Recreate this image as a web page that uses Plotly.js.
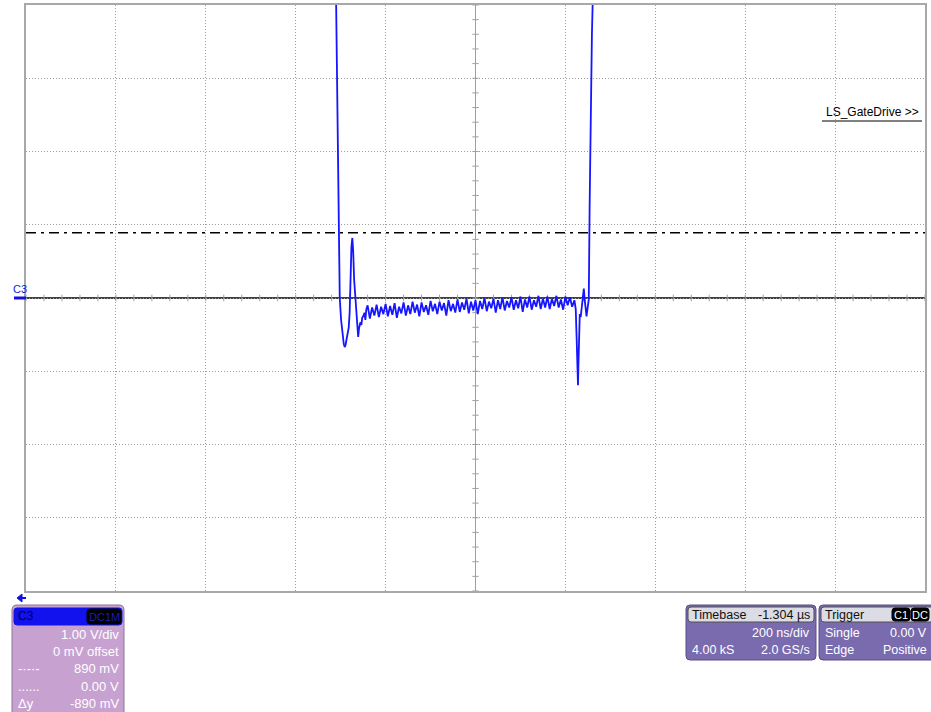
<!DOCTYPE html>
<html><head><meta charset="utf-8">
<script src="https://cdn.plot.ly/plotly-3.0.1.min.js"></script>
<style>html,body{margin:0;padding:0;background:#fff;}#chart{width:931px;height:712px;}</style>
</head><body><div id="chart"></div>
<script>
// ---- data (time in ns from left screen edge, 200 ns/div; volts at 1 V/div) ----
const edge1Time = [688,691,694,696,698,701,704,707,709,711,713,716,718,720,722,724,726,728,730,733,735,737,739,741,744,746,748,751,753,755,757];
const edge1Volt = [5.0,3.5,1.3,0.38,0.0,-0.30,-0.50,-0.63,-0.67,-0.64,-0.57,-0.47,-0.40,-0.20,0.35,0.70,0.82,0.62,0.25,-0.03,-0.30,-0.48,-0.53,-0.41,-0.33,-0.37,-0.27,-0.24,-0.20,-0.30,-0.16];
const flatTime = [760,765,770,775,780,785,790,795,800,805,810,815,820,825,830,835,840,845,850,855,860,865,870,875,880,885,890,895,900,905,910,915,920,925,930,935,940,945,950,955,960,965,970,975,980,985,990,995,1000,1005,1010,1015,1020,1025,1030,1035,1040,1045,1050,1055,1060,1065,1070,1075,1080,1085,1090,1095,1100,1105,1110,1115,1120,1125,1130,1135,1140,1145,1150,1155,1160,1165,1170,1175,1180,1185,1190,1195,1200,1205,1210,1215,1220];
const flatVolt = [-0.10,-0.28,-0.13,-0.24,-0.09,-0.26,-0.12,-0.22,-0.08,-0.25,
 -0.11,-0.23,-0.07,-0.27,-0.12,-0.21,-0.06,-0.24,-0.10,-0.22,
 -0.05,-0.20,-0.09,-0.25,-0.06,-0.19,-0.10,-0.23,-0.04,-0.18,
 -0.08,-0.22,-0.05,-0.17,-0.07,-0.24,-0.03,-0.18,-0.08,-0.20,
 -0.02,-0.19,-0.06,-0.16,-0.01,-0.21,-0.05,-0.17,-0.03,-0.22,
 -0.04,-0.15,0.00,-0.18,-0.05,-0.14,-0.01,-0.20,-0.03,-0.15,
 0.01,-0.17,-0.04,-0.13,0.01,-0.16,-0.03,-0.14,0.02,-0.19,
 -0.02,-0.13,0.02,-0.16,-0.03,-0.12,0.03,-0.15,-0.01,-0.13,
 0.02,-0.15,-0.01,-0.11,0.03,-0.13,-0.02,-0.16,0.02,-0.10,
 0.01,-0.12,-0.03];
const edge2Time = [1223,1225,1227,1228,1229,1230,1232,1234,1236,1238,1240,1241,1243,1245,1247,1248,1250,1252,1254,1256,1259,1261,1263];
const edge2Volt = [-0.15,-0.55,-1.05,-1.19,-0.90,-0.48,-0.22,-0.26,-0.15,0.05,0.12,0.13,-0.03,-0.18,-0.25,-0.20,-0.10,-0.02,1.3,2.4,3.6,4.1,5.0];
const cursorLevels = [0.89, 0.00];   // V
const channelRows = ["1.00 V/div","0 mV offset","890 mV","0.00 V","-890 mV"];
const channelLeft = ["","","-·-·-","......","Δy"];

// ---- geometry helpers (pixels -> paper) ----
const L=26, R=925, T=5, B=591;
const X = v => (v-L)/(R-L);
const Y = v => (B-v)/(B-T);
function rr(x0,y0,x1,y1,r){
  return `M${X(x0+r)},${Y(y0)} L${X(x1-r)},${Y(y0)} Q${X(x1)},${Y(y0)} ${X(x1)},${Y(y0+r)} L${X(x1)},${Y(y1-r)} Q${X(x1)},${Y(y1)} ${X(x1-r)},${Y(y1)} L${X(x0+r)},${Y(y1)} Q${X(x0)},${Y(y1)} ${X(x0)},${Y(y1-r)} L${X(x0)},${Y(y0+r)} Q${X(x0)},${Y(y0)} ${X(x0+r)},${Y(y0)} Z`;
}
const FONT = "Liberation Sans, Arial, sans-serif";
const shapes = [];
const ann = [];
function box(x0,y0,x1,y1,r,fill,line){
  shapes.push({type:'path',xref:'paper',yref:'paper',path:rr(x0,y0,x1,y1,r),fillcolor:fill,line:{color:line||fill,width:1},layer:'above'});
}
function txt(s,x,y,anchor,color,size){
  ann.push({text:s,xref:'paper',yref:'paper',x:X(x),y:Y(y),xanchor:anchor,yanchor:'middle',showarrow:false,font:{family:FONT,size:size||12,color:color}});
}

// center axes (solid gray with small ticks)
shapes.push({type:'line',xref:'x',yref:'y',x0:1000,x1:1000,y0:-4,y1:4,line:{color:'#a0a0a0',width:1},layer:'below'});
for(let v=-4; v<=4.001; v+=0.2){
  shapes.push({type:'line',xref:'x',yref:'y',x0:993,x1:1007,y0:v,y1:v,line:{color:'#a0a0a0',width:1},layer:'below'});
}
for(let t=0; t<=2000; t+=40){
  shapes.push({type:'line',xref:'x',yref:'y',x0:t,x1:t,y0:-0.045,y1:0.045,line:{color:'#a0a0a0',width:1},layer:'below'});
}
// cursors
shapes.push({type:'line',xref:'paper',yref:'y',x0:0,x1:1,y0:cursorLevels[0],y1:cursorLevels[0],line:{color:'#000',width:1.5,dash:'10px,5px,3px,5px'},layer:'below'});
shapes.push({type:'line',xref:'paper',yref:'y',x0:0,x1:1,y0:cursorLevels[1],y1:cursorLevels[1],line:{color:'#000',width:1.5},layer:'below'});

// channel marker on left
shapes.push({type:'line',xref:'paper',yref:'paper',x0:X(14),x1:X(26),y0:Y(298),y1:Y(298),line:{color:'#1010e0',width:3}});
txt('C3',11,289,'left','#1a1ad0',11);
// label
txt('LS_GateDrive >>',921,112,'right','#000',12);
shapes.push({type:'line',xref:'paper',yref:'paper',x0:X(822),x1:X(922),y0:Y(121),y1:Y(121),line:{color:'#000',width:1}});
// blue arrow (left pointing)
shapes.push({type:'line',xref:'paper',yref:'paper',x0:X(19),x1:X(26),y0:Y(598),y1:Y(598),line:{color:'#1010e0',width:2}});
shapes.push({type:'path',xref:'paper',yref:'paper',path:`M${X(17)},${Y(598)} L${X(22)},${Y(594)} L${X(22)},${Y(602)} Z`,fillcolor:'#1010e0',line:{color:'#1010e0',width:1}});

// left channel panel
box(12,605,124,718,5,'#c7a2d1','#8c7496');
box(14,608,122,625,3,'#1212ee','#1212ee');
txt('C3',16,616,'left','#000050',12);
box(87,609,121,624,3,'#000','#000');
txt('DC1M',104,616.5,'center','#1e1eb0',11);
const rowY = [634,651,668,686,703];
channelRows.forEach((s,i)=>{ txt(s,121,rowY[i],'right','#ffffff',13); if(channelLeft[i]) txt(channelLeft[i],16,rowY[i],'left','#ffffff',13); });

// timebase panel
box(686,605,816,660,4,'#7a6aae','#5a4e86');
box(688,607,814,622,3,'#dcdce4','#505050');
txt('Timebase',690,614.5,'left','#111',12.5);
txt('-1.304 µs',812,614.5,'right','#111',12.5);
txt('200 ns/div',812,633,'right','#fff',12.5);
txt('4.00 kS',690,650,'left','#fff',12.5);
txt('2.0 GS/s',812,650,'right','#fff',12.5);

// trigger panel
box(819,605,937,660,4,'#7a6aae','#5a4e86');
box(821,607,937,622,3,'#dcdce4','#505050');
txt('Trigger',823,614.5,'left','#111',12.5);
box(892,608,910,621,3,'#000','#000');
txt('C1',901,614.5,'center','#fff',11);
box(911,608,929,621,3,'#000','#000');
txt('DC',920,614.5,'center','#fff',11);
txt('Single',823,633,'left','#fff',12.5);
txt('0.00 V',929,633,'right','#fff',12.5);
txt('Edge',823,650,'left','#fff',12.5);
txt('Positive',929,650,'right','#fff',12.5);

const trace = {
  x: edge1Time.concat(flatTime, edge2Time),
  y: edge1Volt.concat(flatVolt, edge2Volt),
  type:'scatter', mode:'lines',
  line:{color:'#1515ff',width:1.8},
  hoverinfo:'skip'
};

const layout = {
  width:931, height:712,
  margin:{l:L,r:931-R,t:T,b:712-B,pad:0},
  paper_bgcolor:'#ffffff', plot_bgcolor:'#ffffff',
  showlegend:false,
  xaxis:{range:[0,2000],tick0:0,dtick:200,showgrid:true,griddash:'1px,2px',gridcolor:'#9c9c9c',gridwidth:1,
         showticklabels:false,ticks:'',zeroline:false,showline:true,mirror:true,linecolor:'#a8a8a8',linewidth:2,fixedrange:true},
  yaxis:{range:[-4,4],tick0:0,dtick:1,showgrid:true,griddash:'1px,2px',gridcolor:'#9c9c9c',gridwidth:1,
         showticklabels:false,ticks:'',zeroline:false,showline:true,mirror:true,linecolor:'#a8a8a8',linewidth:2,fixedrange:true},
  shapes:shapes,
  annotations:ann,
  font:{family:FONT}
};
Plotly.newPlot('chart',[trace],layout,{staticPlot:true,displayModeBar:false});
</script>
</body></html>
